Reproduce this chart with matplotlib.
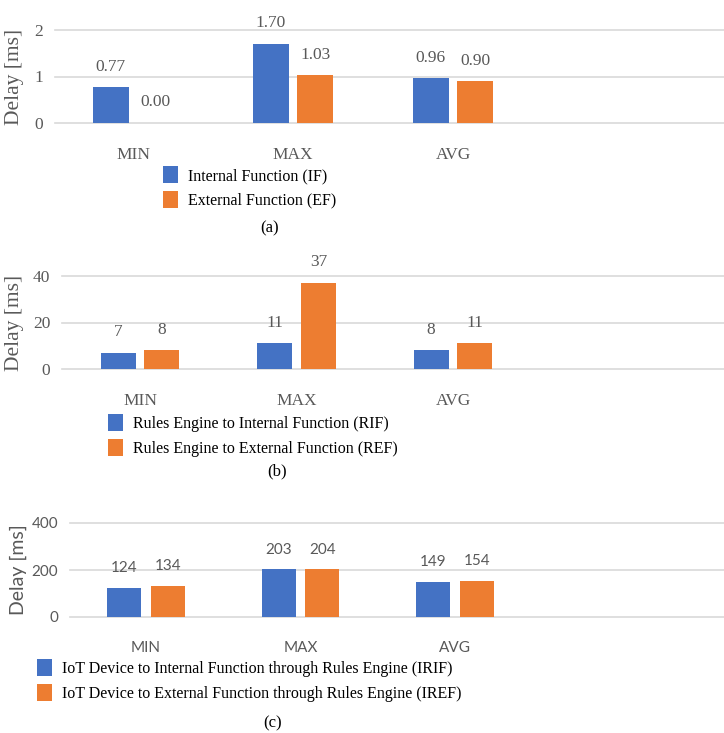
import numpy as np
from matplotlib import pyplot as plt
from matplotlib.patches import Patch

# ---- data ----------------------------------------------------------
categories = ['MIN', 'MAX', 'AVG']

if_delay = [0.77, 1.70, 0.96]
ef_delay = [0.00, 1.03, 0.90]

rif_delay = [7, 11, 8]
ref_delay = [8, 37, 11]

irif_delay = [124, 203, 149]
iref_delay = [134, 204, 154]

labels_a = ['Internal Function (IF)', 'External Function (EF)']
labels_b = ['Rules Engine to Internal Function (RIF)',
            'Rules Engine to External Function (REF)']
labels_c = ['IoT Device to Internal Function through Rules Engine (IRIF)',
            'IoT Device to External Function through Rules Engine (IREF)']

# ---- style -----------------------------------------------------------
BLUE = '#4472C4'
ORANGE = '#ED7D31'
GREY = '#595959'
GRID = '#D9D9D9'
SERIF = 'Liberation Serif'
SANS = 'Lato'

W, H = 724, 733
fig = plt.figure(figsize=(W / 100, H / 100), dpi=100)


def px_axes(left, right, bottom, top):
    ''' Axes placed by pixel edges (origin top-left). '''
    return fig.add_axes([left / W, 1 - bottom / H, (right - left) / W, (bottom - top) / H])


def panel(ax, s1, s2, ymax, yticks, fmt, first_px, step_px, left_px,
          font, tick_size, value_size, ylabel_size, width=0.225, offset=0.14):
    x = np.arange(len(categories))
    ax.bar(x - offset, s1, width, color=BLUE, zorder=3)
    ax.bar(x + offset, s2, width, color=ORANGE, zorder=3)
    for xs, vals in ((x - offset, s1), (x + offset, s2)):
        for xi, v in zip(xs, vals):
            ax.annotate(fmt.format(v), (xi, v), xytext=(0, 9), textcoords='offset points',
                        ha='center', va='bottom', color=GREY, fontsize=value_size,
                        family=font, annotation_clip=False)
    ax.set_ylim(0, ymax)
    ax.set_yticks(yticks)
    ax.set_xlim((left_px - first_px) / step_px, (W - first_px) / step_px)
    ax.set_xticks(x)
    ax.set_xticklabels(categories)
    for sp in ax.spines.values():
        sp.set_visible(False)
    ax.yaxis.grid(True, color=GRID, linewidth=1.2, zorder=0)
    for gl in ax.get_ygridlines():
        gl.set_clip_on(False)
    ax.tick_params(length=0, colors=GREY, labelsize=tick_size)
    ax.tick_params(axis='x', pad=17.5)
    ax.tick_params(axis='y', pad=8.5)
    for t in ax.get_xticklabels() + ax.get_yticklabels():
        t.set_family(font)
    ax.set_ylabel('Delay [ms]', color=GREY, fontsize=ylabel_size, family=font)


def legend(labels, x_px, y_px):
    handles = [Patch(facecolor=BLUE), Patch(facecolor=ORANGE)]
    fig.legend(handles, labels, loc='upper left', bbox_to_anchor=(x_px / W, 1 - y_px / H),
               bbox_transform=fig.transFigure, frameon=False, borderpad=0,
               borderaxespad=0, handlelength=0.95, handleheight=1.3,
               handletextpad=0.6, labelspacing=0.42,
               prop={'family': SERIF, 'size': 11.5})


# (a)
ax_a = px_axes(55, W, 123, 30)
panel(ax_a, if_delay, ef_delay, 2, [0, 1, 2], '{:.2f}', 133, 160, 55,
      SERIF, 12.5, 12.5, 15.5)
ax_a.yaxis.set_label_coords(-0.046, 0.5)
legend(labels_a, 163, 166)
fig.text(270 / W, 1 - 228 / H, '(a)', ha='center', va='center', family=SERIF,
         fontsize=12, color='black')

# (b)
ax_b = px_axes(62, W, 369, 276)
panel(ax_b, rif_delay, ref_delay, 40, [0, 20, 40], '{:.0f}', 140, 156.5, 62,
      SERIF, 12.5, 12.5, 15.5, width=0.224)
ax_b.yaxis.set_label_coords(-0.057, 0.5)
legend(labels_b, 108, 414)
fig.text(277 / W, 1 - 471 / H, '(b)', ha='center', va='center', family=SERIF,
         fontsize=12, color='black')

# (c)
ax_c = px_axes(70, W, 617, 523)
panel(ax_c, irif_delay, iref_delay, 400, [0, 200, 400], '{:.0f}', 146, 154.5, 70,
      SANS, 11, 11, 14, width=0.22)
ax_c.yaxis.set_label_coords(-0.066, 0.5)
legend(labels_c, 37, 659)
fig.text(273 / W, 1 - 723 / H, '(c)', ha='center', va='center', family=SERIF,
         fontsize=12, color='black')

fig.savefig('out.png', dpi=100)
